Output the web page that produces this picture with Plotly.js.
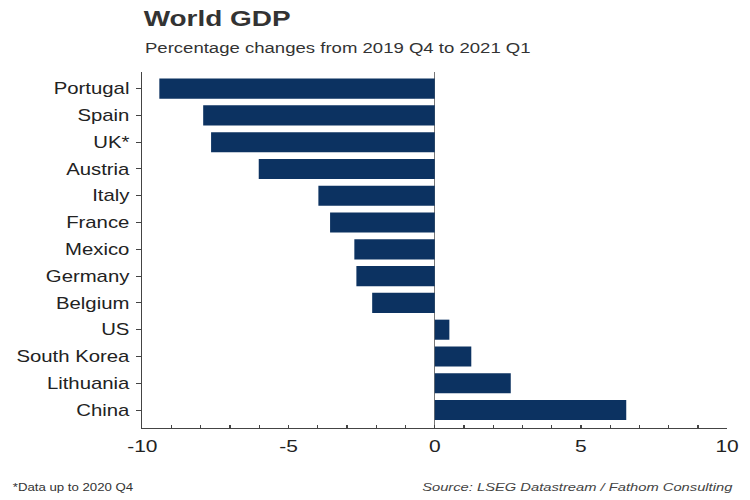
<!DOCTYPE html>
<html><head><meta charset="utf-8">
<script src="https://cdn.plot.ly/plotly-3.0.1.min.js"></script>
<style>
html,body{margin:0;padding:0;background:#fff}
#wrap{width:750px;height:500px;overflow:hidden}
#c{width:590px;height:500px;transform:scaleX(1.271186);transform-origin:0 0}
</style>
</head><body><div id="wrap"><div id="c"></div></div>
<script>
const countries = ["Portugal","Spain","UK*","Austria","Italy","France","Mexico","Germany","Belgium","US","South Korea","Lithuania","China"];
const changes = [-9.42,-7.92,-7.65,-6.02,-3.98,-3.58,-2.75,-2.68,-2.14,0.5,1.25,2.6,6.55];
const xTicks = [-10,-5,0,5,10];
const titleText = "World GDP";
const subtitleText = "Percentage changes from 2019 Q4 to 2021 Q1";
const footnoteText = "*Data up to 2020 Q4";
const sourceText = "Source: LSEG Datastream / Fathom Consulting";

const FONT = "Liberation Sans, Arial, sans-serif";
const trace = {
  type: "bar", orientation: "h",
  x: changes, y: countries,
  marker: {color: "#0c3261", line: {width: 0}},
  hoverinfo: "skip"
};
const layout = {
  width: 590, height: 500,
  margin: {l: 112, r: 18, t: 72, b: 72},
  paper_bgcolor: "#fff", plot_bgcolor: "#fff",
  showlegend: false,
  bargap: 0.25,
  font: {family: FONT, color: "#333"},
  xaxis: {
    range: [-10, 10], tickvals: xTicks, ticktext: xTicks.map(String),
    showgrid: false, zeroline: true, zerolinecolor: "#777", zerolinewidth: 1,
    showline: true, linecolor: "#444", linewidth: 1,
    ticks: "inside", ticklen: 3, tickcolor: "#444",
    minor: {dtick: 1, ticks: "inside", ticklen: 3, tickcolor: "#444"},
    tickfont: {size: 16.5, color: "#222"}, ticklabelstandoff: 3, fixedrange: true
  },
  yaxis: {
    type: "category", categoryorder: "array", categoryarray: countries,
    range: [12.67, -0.62],
    showgrid: false, zeroline: false,
    showline: true, linecolor: "#444", linewidth: 1,
    ticks: "outside", ticklen: 4, tickcolor: "#444",
    tickfont: {size: 16, color: "#222"}, ticklabelstandoff: 2, fixedrange: true
  },
  annotations: [
    {text: "<b>" + titleText + "</b>", xref: "paper", yref: "paper", x: 0, y: 1,
     xanchor: "left", yanchor: "bottom", yshift: 39, xshift: -1.5, showarrow: false,
     font: {size: 22, color: "#333", family: FONT}},
    {text: subtitleText, xref: "paper", yref: "paper", x: 0, y: 1,
     xanchor: "left", yanchor: "bottom", yshift: 14, xshift: -0.5, showarrow: false,
     font: {size: 14.6, color: "#333", family: FONT}},
    {text: footnoteText, xref: "paper", yref: "paper", x: 0, y: 0,
     xanchor: "left", yanchor: "bottom", xshift: -104, yshift: -67, showarrow: false,
     font: {size: 10.4, color: "#333", family: FONT}},
    {text: "<i>" + sourceText + "</i>", xref: "paper", yref: "paper", x: 1, y: 0,
     xanchor: "right", yanchor: "bottom", xshift: 7, yshift: -67, showarrow: false,
     font: {size: 11.6, color: "#444", family: FONT}}
  ]
};
Plotly.newPlot("c", [trace], layout, {displayModeBar: false, staticPlot: true});
</script></body></html>
